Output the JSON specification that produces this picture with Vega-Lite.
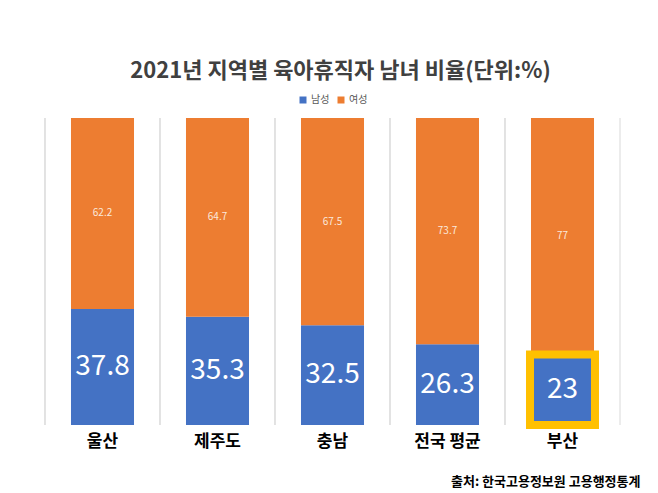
{
  "$schema": "https://vega.github.io/schema/vega-lite/v6.json",
  "autosize": "none",
  "width": 575,
  "height": 307,
  "padding": {"top": 118, "left": 45, "right": 38, "bottom": 68},
  "background": "white",
  "config": {
    "font": "Noto Sans CJK KR",
    "view": {"stroke": null}
  },
  "title": {
    "text": "2021년 지역별 육아휴직자 남녀 비율(단위:%)",
    "fontSize": 22,
    "fontWeight": "bold",
    "color": "#404040",
    "anchor": "middle",
    "dx": 8,
    "offset": 12
  },
  "data": {
    "values": [
      {"region": "울산", "gender": "남성", "value": 37.8},
      {"region": "울산", "gender": "여성", "value": 62.2},
      {"region": "제주도", "gender": "남성", "value": 35.3},
      {"region": "제주도", "gender": "여성", "value": 64.7},
      {"region": "충남", "gender": "남성", "value": 32.5},
      {"region": "충남", "gender": "여성", "value": 67.5},
      {"region": "전국 평균", "gender": "남성", "value": 26.3},
      {"region": "전국 평균", "gender": "여성", "value": 73.7},
      {"region": "부산", "gender": "남성", "value": 23},
      {"region": "부산", "gender": "여성", "value": 77}
    ]
  },
  "encoding": {
    "x": {
      "field": "region",
      "type": "nominal",
      "sort": ["울산", "제주도", "충남", "전국 평균", "부산"],
      "scale": {"paddingInner": 0, "paddingOuter": 0},
      "axis": {
        "title": "출처: 한국고용정보원 고용행정통계",
        "titleFontSize": 13,
        "titleFontWeight": "bold",
        "titleColor": "#000000",
        "titleAnchor": "end",
        "titleAlign": "right",
        "titleX": 595,
        "titleY": 60,
        "titleBaseline": "alphabetic",
        "labelAngle": 0,
        "labelFontSize": 17,
        "labelFontWeight": "bold",
        "labelColor": "#000000",
        "labelPadding": 8,
        "domain": false,
        "ticks": false,
        "grid": false
      }
    }
  },
  "layer": [
    {
      "mark": {"type": "rule", "color": "#d9d9d9", "strokeWidth": 1},
      "encoding": {
        "x": {"field": "region", "type": "nominal", "sort": ["울산", "제주도", "충남", "전국 평균", "부산"], "bandPosition": 0}
      }
    },
    {
      "transform": [{"filter": "datum.region === '부산' && datum.gender === '남성'"}],
      "mark": {"type": "rule", "color": "#d9d9d9", "strokeWidth": 1},
      "encoding": {
        "x": {"field": "region", "type": "nominal", "sort": ["울산", "제주도", "충남", "전국 평균", "부산"], "bandPosition": 1}
      }
    },
    {
      "mark": {"type": "bar", "width": {"band": 0.548}},
      "encoding": {
        "y": {"field": "value", "type": "quantitative", "stack": "zero", "scale": {"domain": [0, 100]}, "axis": null},
        "color": {
          "field": "gender",
          "type": "nominal",
          "scale": {"domain": ["남성", "여성"], "range": ["#4472C4", "#ED7D31"]},
          "legend": {
            "title": null,
            "orient": "none",
            "direction": "horizontal",
            "legendX": 253,
            "legendY": -23,
            "symbolType": "square",
            "symbolSize": 49,
            "symbolStrokeWidth": 0,
            "labelFontSize": 10,
            "labelColor": "#595959",
            "columnPadding": 6,
            "labelOffset": 3
          }
        },
        "order": {"field": "gender", "sort": "ascending"}
      }
    },
    {
      "transform": [
        {"stack": "value", "groupby": ["region"], "sort": [{"field": "gender", "order": "ascending"}], "as": ["v0", "v1"]},
        {"calculate": "(datum.v0 + datum.v1) / 2", "as": "mid"},
        {"filter": "datum.gender === '남성'"}
      ],
      "mark": {"type": "text", "color": "white", "fontSize": 28, "baseline": "middle"},
      "encoding": {
        "y": {"field": "mid", "type": "quantitative", "scale": {"domain": [0, 100]}},
        "text": {"field": "value", "type": "quantitative"}
      }
    },
    {
      "transform": [
        {"stack": "value", "groupby": ["region"], "sort": [{"field": "gender", "order": "ascending"}], "as": ["v0", "v1"]},
        {"calculate": "(datum.v0 + datum.v1) / 2", "as": "mid"},
        {"filter": "datum.gender === '여성'"}
      ],
      "mark": {"type": "text", "color": "#FBE9DC", "fontSize": 10, "baseline": "middle"},
      "encoding": {
        "y": {"field": "mid", "type": "quantitative", "scale": {"domain": [0, 100]}},
        "text": {"field": "value", "type": "quantitative"}
      }
    },
    {
      "transform": [{"filter": "datum.region === '부산' && datum.gender === '남성'"}],
      "mark": {"type": "bar", "width": {"band": 0.565}, "fill": null, "fillOpacity": 0, "stroke": "#FFC000", "strokeWidth": 8},
      "encoding": {
        "y": {"field": "value", "type": "quantitative", "stack": null, "scale": {"domain": [0, 100]}}
      }
    }
  ]
}
